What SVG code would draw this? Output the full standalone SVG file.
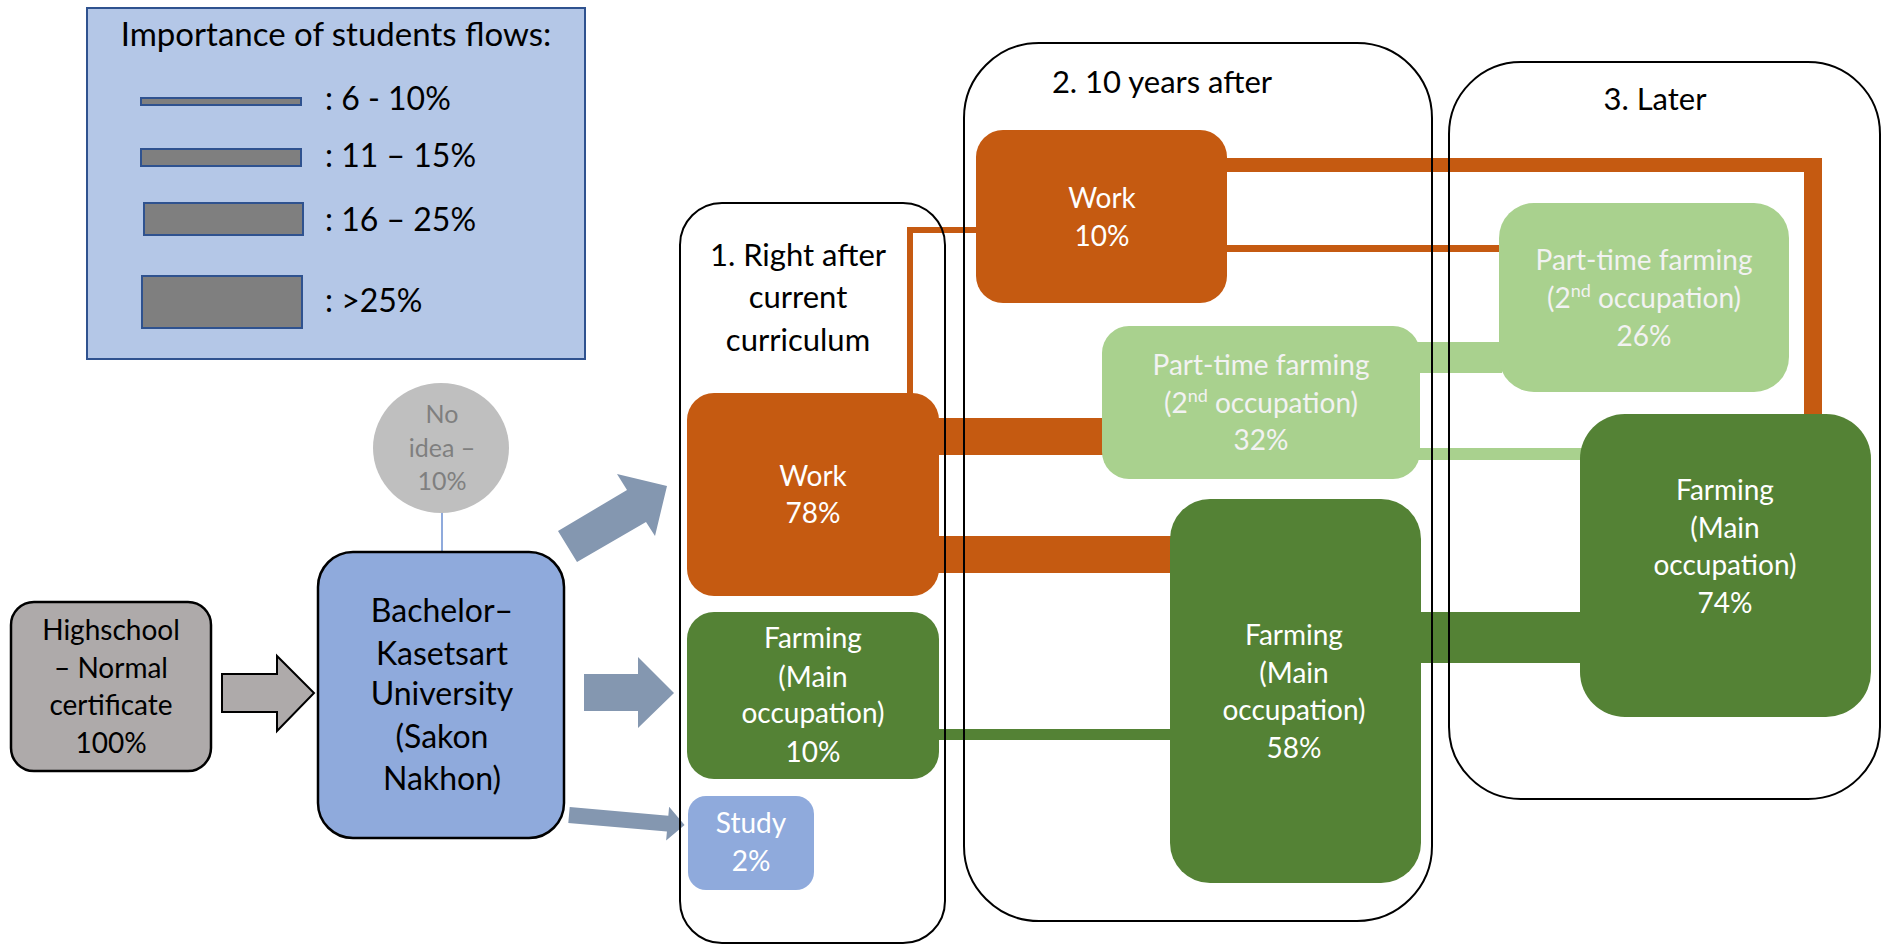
<svg xmlns="http://www.w3.org/2000/svg" width="1883" height="949" viewBox="0 0 1883 949">
<style>
text{font-family:Lato,"Liberation Sans",sans-serif;text-anchor:middle}
.lg{font-size:32px;fill:#000;text-anchor:start}
.lt{font-size:33px;fill:#000}
.ct{font-size:31px;fill:#000}
.nt{font-size:28px;fill:#fff}
.pt{font-size:28px;fill:#F2F2F2}
.or{fill:#C55A11}
.dg{fill:#548235}
.lgn{fill:#A9D18E}
.bl{fill:#8FAADC}
.ar{fill:#8497B0}
.frame{fill:none;stroke:#000;stroke-width:2}
.bar{fill:#7F7F7F;stroke:#2F528F;stroke-width:2}
</style>
<rect width="1883" height="949" fill="#fff"/>
<g id="legend">
<rect x="87" y="8" width="498" height="351" fill="#B4C7E7" stroke="#2F528F" stroke-width="2"/>
<text class="lt" x="336" y="46">Importance of students flows:</text>
<rect class="bar" x="141" y="98" width="160" height="7"/>
<text class="lg" x="325" y="110">: 6 - 10%</text>
<rect class="bar" x="141" y="149" width="160" height="17"/>
<text class="lg" x="325" y="167">: 11 – 15%</text>
<rect class="bar" x="144" y="203" width="159" height="32"/>
<text class="lg" x="325" y="231">: 16 – 25%</text>
<rect class="bar" x="142" y="276" width="160" height="52"/>
<text class="lg" x="325" y="312">: &gt;25%</text>
</g>
<g id="connectors">
<line x1="442" y1="512" x2="442" y2="553" stroke="#8FAADC" stroke-width="2"/>
<polygon points="222,674 277,674 277,656 314,693 277,731 277,712 222,712" fill="#AEAAAA" stroke="#000" stroke-width="2"/>
<polygon class="ar" points="558,531 627,490 617,474 667,486 655,536 646,522 577,562"/>
<polygon class="ar" points="584,674 638,674 638,657 674,693 638,728 638,711 584,711"/>
<polygon class="ar" transform="translate(569,815) rotate(5)" points="0,-8 99,-8 99,-17 116,0 99,17 99,8 0,8"/>
<polyline points="910,394 910,230 977,230" fill="none" stroke="#C55A11" stroke-width="6"/>
<rect class="or" x="935" y="418" width="170" height="37"/>
<rect class="or" x="935" y="536" width="238" height="37"/>
<rect class="dg" x="935" y="729" width="238" height="11"/>
<rect class="or" x="1223" y="158" width="599" height="14"/>
<rect class="or" x="1804" y="158" width="18" height="260"/>
<rect class="or" x="1223" y="245" width="279" height="7"/>
<rect class="lgn" x="1416" y="342" width="86" height="31"/>
<rect class="lgn" x="1416" y="448" width="168" height="12"/>
<rect class="dg" x="1417" y="612" width="167" height="51"/>
</g>
<g id="columns">
<rect class="frame" x="680" y="203" width="265" height="740" rx="42"/>
<rect class="frame" x="964" y="43" width="468" height="878" rx="75"/>
<rect class="frame" x="1449" y="62" width="431" height="737" rx="72"/>
<text class="ct" x="798" y="266">1. Right after</text>
<text class="ct" x="798" y="308">current</text>
<text class="ct" x="798" y="351">curriculum</text>
<text class="ct" x="1162" y="93">2. 10 years after</text>
<text class="ct" x="1655" y="110">3. Later</text>
</g>
<g id="highschool">
<rect x="11" y="602" width="200" height="169" rx="23" fill="#AEAAAA" stroke="#000" stroke-width="2.5"/>
<text x="111" y="640" font-size="28">Highschool</text>
<text x="111" y="678" font-size="28">– Normal</text>
<text x="111" y="715" font-size="28">certificate</text>
<text x="111" y="753" font-size="28">100%</text>
</g>
<g id="no-idea">
<ellipse cx="441" cy="448" rx="68" ry="65" fill="#BFBFBF"/>
<text x="442" y="423" font-size="25" fill="#7F7F7F">No</text>
<text x="442" y="457" font-size="25" fill="#7F7F7F">idea –</text>
<text x="442" y="490" font-size="25" fill="#7F7F7F">10%</text>
</g>
<g id="bachelor">
<rect x="318" y="552" width="246" height="286" rx="35" fill="#8FAADC" stroke="#000" stroke-width="2.5"/>
<text x="442" y="622" font-size="32">Bachelor–</text>
<text x="442" y="665" font-size="32">Kasetsart</text>
<text x="442" y="705" font-size="32">University</text>
<text x="442" y="748" font-size="32">(Sakon</text>
<text x="442" y="790" font-size="32">Nakhon)</text>
</g>
<g id="work78">
<rect class="or" x="687" y="393" width="252" height="203" rx="27"/>
<text class="nt" x="813" y="486">Work</text>
<text class="nt" x="813" y="523">78%</text>
</g>
<g id="farming10">
<rect class="dg" x="687" y="612" width="252" height="167" rx="27"/>
<text class="nt" x="813" y="648">Farming</text>
<text class="nt" x="813" y="687">(Main</text>
<text class="nt" x="813" y="723">occupation)</text>
<text class="nt" x="813" y="762">10%</text>
</g>
<g id="study">
<rect class="bl" x="688" y="796" width="126" height="94" rx="18"/>
<text class="nt" x="751" y="833">Study</text>
<text class="nt" x="751" y="871">2%</text>
</g>
<g id="work10">
<rect class="or" x="976" y="130" width="251" height="173" rx="27"/>
<text class="nt" x="1102" y="208">Work</text>
<text class="nt" x="1102" y="246">10%</text>
</g>
<g id="parttime32">
<rect class="lgn" x="1102" y="326" width="318" height="153" rx="27"/>
<text class="pt" x="1261" y="375">Part-time farming</text>
<text class="pt" x="1261" y="413">(2<tspan font-size="18" dy="-11">nd</tspan><tspan dy="11"> occupation)</tspan></text>
<text class="pt" x="1261" y="450">32%</text>
</g>
<g id="farming58">
<rect class="dg" x="1170" y="499" width="251" height="384" rx="40"/>
<text class="nt" x="1294" y="645">Farming</text>
<text class="nt" x="1294" y="683">(Main</text>
<text class="nt" x="1294" y="720">occupation)</text>
<text class="nt" x="1294" y="758">58%</text>
</g>
<g id="parttime26">
<rect class="lgn" x="1499" y="203" width="290" height="189" rx="35"/>
<text class="pt" x="1644" y="270">Part-time farming</text>
<text class="pt" x="1644" y="308">(2<tspan font-size="18" dy="-11">nd</tspan><tspan dy="11"> occupation)</tspan></text>
<text class="pt" x="1644" y="346">26%</text>
</g>
<g id="farming74">
<rect class="dg" x="1580" y="414" width="291" height="303" rx="45"/>
<text class="nt" x="1725" y="500">Farming</text>
<text class="nt" x="1725" y="538">(Main</text>
<text class="nt" x="1725" y="575">occupation)</text>
<text class="nt" x="1725" y="613">74%</text>
</g>
</svg>
